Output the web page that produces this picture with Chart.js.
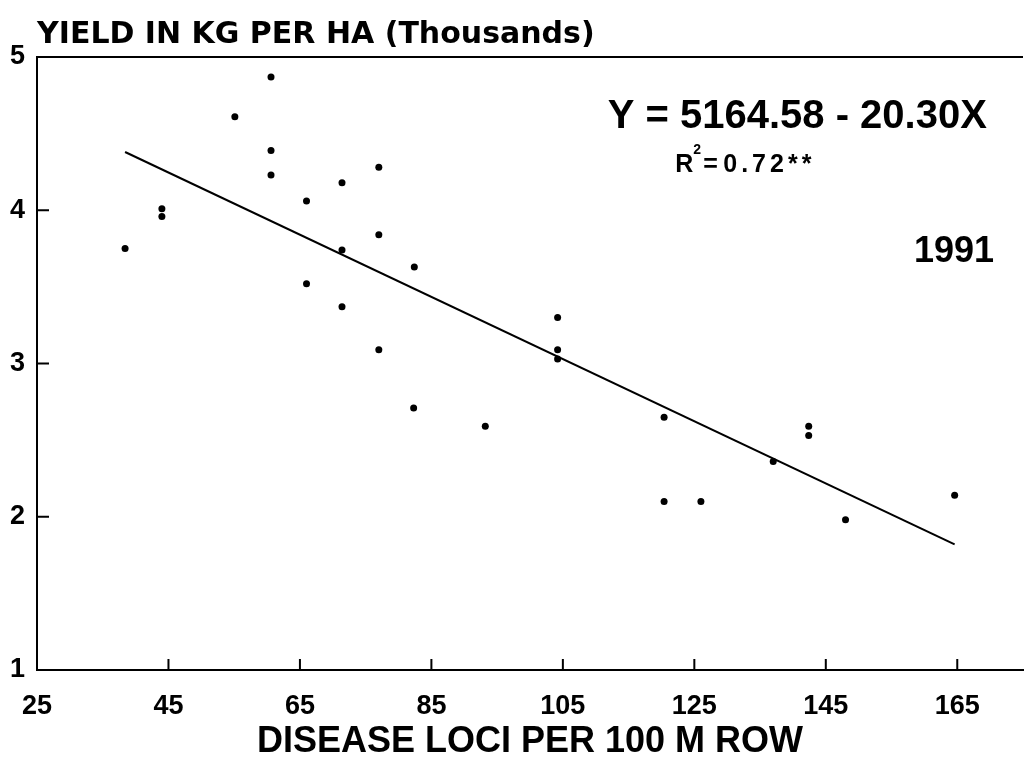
<!DOCTYPE html>
<html>
<head>
<meta charset="utf-8">
<script src="https://cdn.jsdelivr.net/npm/chart.js@4.4.1/dist/chart.umd.min.js"></script>
<style>
    body { margin: 0; background: #fff; }
    #wrap { width: 1027px; height: 760px; }
</style>
</head>
<body>
<div id="wrap"><canvas id="grafico"></canvas></div>
<script>
// disease loci per 100 m row (x) vs yield in thousand kg/ha (y), 1991
var lociX = [38.4, 44.0, 44.0, 55.1, 60.6, 60.6, 60.6, 66.0, 66.0, 71.4, 71.4, 71.4, 77.0, 77.0, 77.0,
    82.4, 82.3, 93.2, 104.2, 104.2, 104.2, 120.4, 120.4, 126.0, 137.0, 142.4, 142.4, 148.0, 164.6];
var yieldY = [3.75, 4.01, 3.96, 4.61, 4.87, 4.39, 4.23, 4.06, 3.52, 4.18, 3.74, 3.37, 4.28, 3.84, 3.09,
    3.63, 2.71, 2.59, 3.30, 3.09, 3.03, 2.65, 2.10, 2.10, 2.36, 2.59, 2.53, 1.98, 2.14];

// fitted line ends
var lineX = [38.4, 164.6];
var lineY = [4.38, 1.82];

var xTicks = [25, 45, 65, 85, 105, 125, 145, 165];
var yTicks = [1, 2, 3, 4, 5];

var fuente = "'Liberation Sans', Arial, sans-serif";
var fuenteAncha = "'DejaVu Sans', Verdana, sans-serif";

var puntos = [];
for (var i = 0; i < lociX.length; i++) {
    puntos.push({ x: lociX[i], y: yieldY[i] });
}
var recta = [];
for (var j = 0; j < lineX.length; j++) {
    recta.push({ x: lineX[j], y: lineY[j] });
}

// ticks pointing inwards, top frame line and the text notes
var marcoPlugin = {
    id: 'marco',
    afterDraw: function (chart) {
        var ctx = chart.ctx;
        var area = chart.chartArea;
        var sx = chart.scales.x;
        var sy = chart.scales.y;
        ctx.save();
        ctx.strokeStyle = '#000';
        ctx.lineWidth = 2;
        ctx.beginPath();
        ctx.moveTo(area.left, area.top);
        ctx.lineTo(area.right, area.top);
        xTicks.forEach(function (v) {
            var px = sx.getPixelForValue(v);
            ctx.moveTo(px, area.bottom);
            ctx.lineTo(px, area.bottom - 11);
        });
        yTicks.forEach(function (v) {
            var py = sy.getPixelForValue(v);
            ctx.moveTo(area.left, py);
            ctx.lineTo(area.left + 12, py);
        });
        ctx.stroke();

        ctx.fillStyle = '#000';
        ctx.textBaseline = 'alphabetic';
        ctx.textAlign = 'right';
        ctx.font = 'bold 40px ' + fuente;
        ctx.fillText('Y = 5164.58 - 20.30X', sx.getPixelForValue(169.5), sy.getPixelForValue(4.535));

        // R² line, spaced out like the plotter lettering
        ctx.textAlign = 'left';
        var rx = sx.getPixelForValue(122.1);
        var ry = sy.getPixelForValue(4.25);
        ctx.font = 'bold 25px ' + fuente;
        ctx.fillText('R', rx, ry);
        ctx.font = 'bold 14px ' + fuente;
        ctx.fillText('2', rx + 18, ry - 18);
        ctx.font = 'bold 25px ' + fuente;
        ctx.fillText('=', rx + 28, ry);
        if ('letterSpacing' in ctx) ctx.letterSpacing = '4px';
        ctx.fillText('0.72**', rx + 48, ry);
        if ('letterSpacing' in ctx) ctx.letterSpacing = '0px';

        ctx.textAlign = 'right';
        ctx.font = 'bold 36px ' + fuente;
        ctx.fillText('1991', sx.getPixelForValue(170.6), sy.getPixelForValue(3.66));
        ctx.restore();
    }
};

var grafico = new Chart(document.getElementById('grafico'), {
    type: 'scatter',
    data: {
        datasets: [{
            label: 'Yield',
            data: puntos,
            pointStyle: 'circle',
            pointRadius: 3.5,
            backgroundColor: '#000',
            borderColor: '#000',
            borderWidth: 0
        }, {
            label: 'Regression',
            type: 'line',
            data: recta,
            showLine: true,
            pointRadius: 0,
            borderColor: '#000',
            borderWidth: 2,
            fill: false
        }]
    },
    options: {
        responsive: true,
        maintainAspectRatio: false,
        animation: false,
        layout: { padding: 0 },
        plugins: {
            legend: { display: false },
            tooltip: { enabled: false },
            title: {
                display: true,
                text: 'YIELD IN KG PER HA (Thousands)',
                align: 'start',
                fullSize: false,
                color: '#000',
                font: { family: fuenteAncha, size: 30, weight: 'bold', lineHeight: 1.2 },
                padding: { top: 17, bottom: 4 }
            }
        },
        scales: {
            x: {
                type: 'linear',
                min: 25,
                max: 175,
                afterBuildTicks: function (axis) {
                    axis.ticks = xTicks.map(function (v) { return { value: v }; });
                },
                afterFit: function (scale) { scale.height = 90; },
                grid: { display: false, drawTicks: false },
                border: { display: true, color: '#000', width: 2 },
                ticks: {
                    color: '#000',
                    padding: 20,
                    maxRotation: 0,
                    autoSkip: false,
                    font: { family: fuente, size: 27, weight: 'bold' }
                },
                title: {
                    display: true,
                    text: 'DISEASE LOCI PER 100 M ROW',
                    color: '#000',
                    padding: { top: 0, bottom: 0 },
                    font: { family: fuente, size: 36, weight: 'bold', lineHeight: 1 }
                }
            },
            y: {
                type: 'linear',
                min: 1,
                max: 5,
                afterBuildTicks: function (axis) {
                    axis.ticks = yTicks.map(function (v) { return { value: v }; });
                },
                afterFit: function (scale) { scale.width = 37; },
                grid: { display: false, drawTicks: false },
                border: { display: true, color: '#000', width: 2 },
                ticks: {
                    color: '#000',
                    padding: 12,
                    font: { family: fuente, size: 27, weight: 'bold' }
                }
            }
        }
    },
    plugins: [marcoPlugin]
});
</script>
</body>
</html>
